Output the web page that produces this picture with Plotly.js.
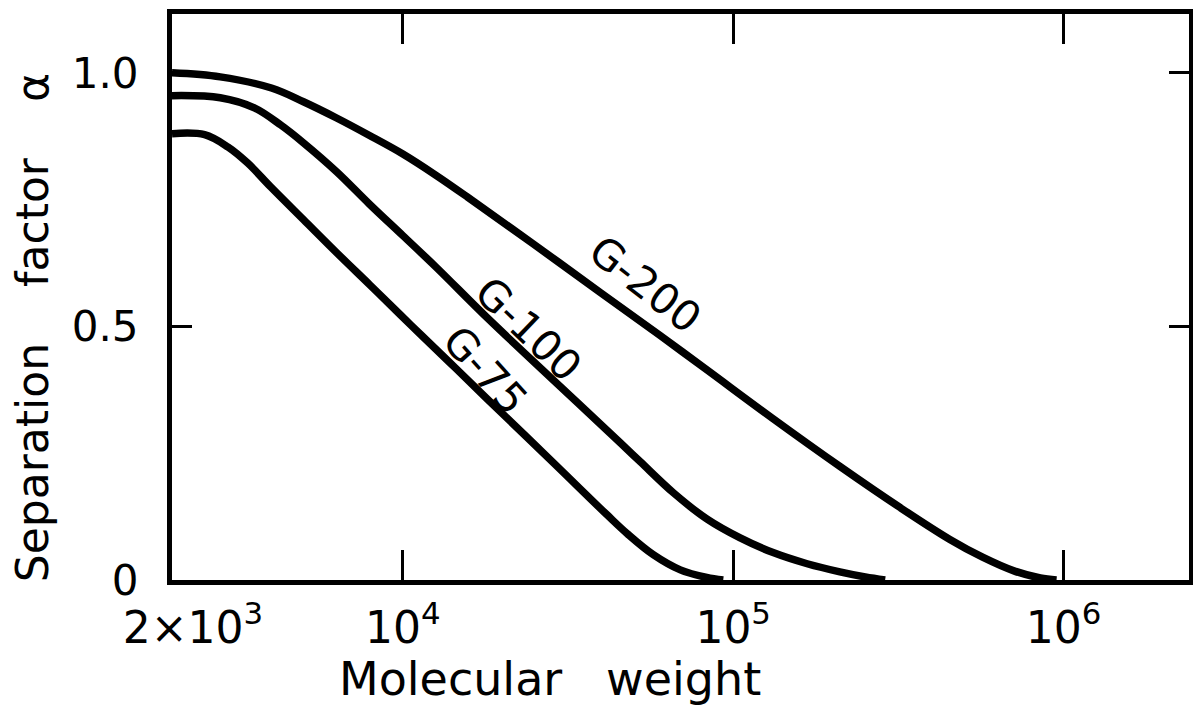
<!DOCTYPE html>
<html>
<head>
<meta charset="utf-8">
<script src="https://cdn.plot.ly/plotly-3.0.1.min.js"></script>
<style>html,body{margin:0;padding:0;background:#fff;}#chart{width:1193px;height:713px;}</style>
</head>
<body>
<div id="chart"></div>
<script>
// Molecular weight (x) and separation factor alpha (y)
const g200_mw    = [2000, 2800, 4000, 5000, 6300, 7900, 10000, 12600, 15700, 24900, 39600, 60100, 83400, 132100, 210400, 319900, 452900, 568900, 707900, 851100, 952800];
const g200_alpha = [1.0, 0.992, 0.970, 0.943, 0.911, 0.877, 0.840, 0.798, 0.755, 0.662, 0.567, 0.482, 0.414, 0.318, 0.224, 0.143, 0.080, 0.045, 0.018, 0.004, 0.0];

const g100_mw    = [2000, 2800, 3550, 4270, 5000, 6300, 7900, 10000, 12600, 18070, 28580, 45600, 52360, 65900, 83400, 105000, 132100, 167500, 210400, 251200, 288400];
const g100_alpha = [0.955, 0.951, 0.931, 0.897, 0.862, 0.805, 0.742, 0.679, 0.617, 0.516, 0.394, 0.270, 0.233, 0.172, 0.120, 0.083, 0.054, 0.032, 0.016, 0.006, 0.0];

const g75_mw     = [2000, 2510, 2950, 3390, 3980, 5010, 6310, 7940, 9860, 11320, 13960, 18070, 28580, 41590, 47860, 57280, 69180, 83180, 93300];
const g75_alpha  = [0.880, 0.878, 0.854, 0.822, 0.775, 0.710, 0.645, 0.582, 0.522, 0.484, 0.427, 0.356, 0.231, 0.128, 0.091, 0.050, 0.020, 0.005, 0.0];

const xTickVals  = [2000, 10000, 100000, 1000000];
const xTickText  = ["\u00a0\u00a0\u00a02×10<sup>3</sup>", "10<sup>4</sup>", "10<sup>5</sup>", "10<sup>6</sup>"];
const yTickVals  = [0, 0.5, 1.0];
const yTickText  = ["0", "0.5", "1.0"];

const xTitle = "Molecular\u00a0\u00a0\u00a0weight";
const yTitle = "Separation\u00a0\u00a0\u00a0\u00a0factor\u00a0\u00a0\u00a0\u00a0α";

const curveLabels = [
  {text: "G-200", mw: 54200, alpha: 0.582, angle: 38},
  {text: "G-100", mw: 24000, alpha: 0.493, angle: 44},
  {text: "G-75",  mw: 17800, alpha: 0.414, angle: 48}
];

const font = "DejaVu Sans, sans-serif";
const line = {color: "#000", width: 7.5, shape: "spline", smoothing: 1};

const traces = [
  {x: g200_mw, y: g200_alpha, mode: "lines", line: line, name: "G-200"},
  {x: g100_mw, y: g100_alpha, mode: "lines", line: line, name: "G-100"},
  {x: g75_mw,  y: g75_alpha,  mode: "lines", line: line, name: "G-75"}
];

const annotations = curveLabels.map(l => ({
  x: Math.log10(l.mw), y: l.alpha, xref: "x", yref: "y",
  text: l.text, showarrow: false, textangle: l.angle,
  font: {family: font, size: 42, color: "#000"}
}));
annotations.push({
  xref: "paper", yref: "paper", x: 0.372, y: 0, xanchor: "center", yanchor: "top", yshift: -70,
  text: xTitle, showarrow: false, font: {family: font, size: 46, color: "#000"}
});
annotations.push({
  xref: "paper", yref: "paper", x: 0, y: 0.445, xanchor: "center", yanchor: "middle", xshift: -140,
  text: yTitle, showarrow: false, textangle: -90, font: {family: font, size: 44, color: "#000"}
});

const layout = {
  width: 1193, height: 713,
  margin: {l: 172, r: 4, t: 14, b: 133},
  paper_bgcolor: "#fff", plot_bgcolor: "#fff",
  showlegend: false,
  font: {family: font, color: "#000"},
  xaxis: {
    type: "log",
    range: [Math.log10(2000), 6.38],
    tickvals: xTickVals, ticktext: xTickText,
    ticks: "inside", ticklen: 30, tickwidth: 3, tickcolor: "#000",
    showline: true, linewidth: 5, linecolor: "#000", mirror: "ticks",
    showgrid: false, zeroline: false,
    tickfont: {family: font, size: 44, color: "#000"},
    ticklabelstandoff: 5
  },
  yaxis: {
    range: [0, 1.116],
    tickvals: yTickVals, ticktext: yTickText,
    ticks: "inside", ticklen: 20, tickwidth: 3, tickcolor: "#000",
    showline: true, linewidth: 5, linecolor: "#000", mirror: "ticks",
    showgrid: false, zeroline: false,
    tickfont: {family: font, size: 42, color: "#000"},
    ticklabelstandoff: 20
  },
  annotations: annotations
};

Plotly.newPlot("chart", traces, layout, {displayModeBar: false, staticPlot: true});
</script>
</body>
</html>
